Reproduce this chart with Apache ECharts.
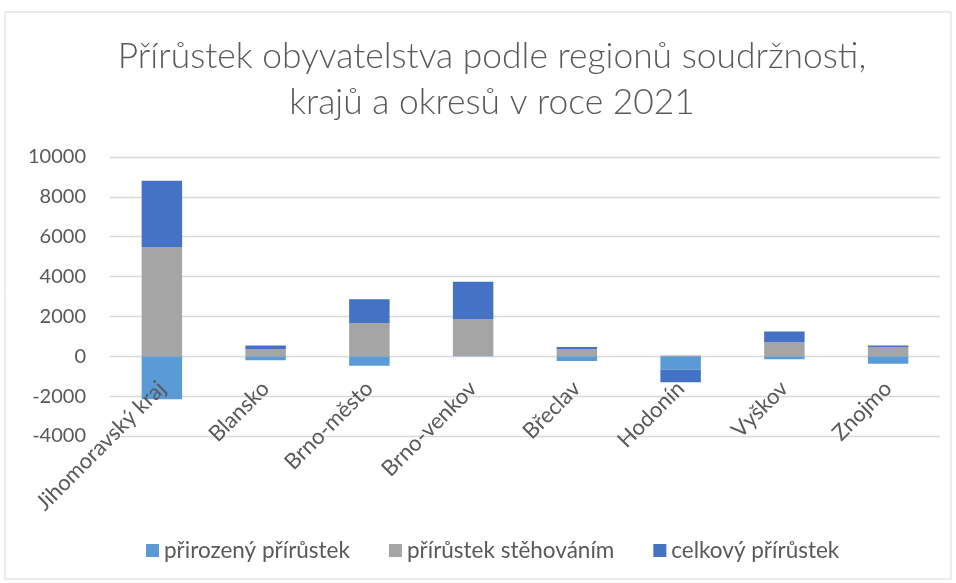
<!DOCTYPE html>
<html>
<head>
<meta charset="utf-8">
<script src="https://cdn.jsdelivr.net/npm/echarts@6/dist/echarts.min.js"></script>
<style>
  html, body { margin: 0; padding: 0; background: #fff; }
  #chart { width: 956px; height: 583px; }
</style>
</head>
<body>
<div id="chart"></div>
<script>
// okresy Jihomoravského kraje
const categories = ['Jihomoravský kraj', 'Blansko', 'Brno-město', 'Brno-venkov', 'Břeclav', 'Hodonín', 'Vyškov', 'Znojmo'];
// hodnoty
const prirozeny = [-2150, -200, -480, 10, -235, -670, -150, -380];
const stehovani = [5480, 370, 1670, 1865, 350, 40, 700, 460];
const celkovy = [3330, 170, 1190, 1870, 115, -630, 550, 80];
const yTicks = { min: -4000, max: 10000, step: 2000 };

const textColor = '#595959';
const font = 'Lato';

const chart = echarts.init(document.getElementById('chart'));

const barSeries = (name, data, color) => ({
  name: name,
  type: 'bar',
  stack: 'total',
  barWidth: '39%',
  data: data,
  itemStyle: { color: color },
  emphasis: { disabled: true }
});

chart.setOption({
  animation: false,
  textStyle: { fontFamily: font },
  title: {
    text: 'Přírůstek obyvatelstva podle regionů soudržnosti,\nkrajů a okresů v roce 2021',
    left: 487,
    textAlign: 'center',
    top: 29,
    textStyle: {
      color: textColor,
      fontFamily: font,
      fontWeight: 300,
      fontSize: 35.4,
      lineHeight: 46
    }
  },
  graphic: [{
    type: 'rect',
    shape: { x: 5, y: 12, width: 946, height: 567 },
    style: { fill: 'none', stroke: '#d9d9d9', lineWidth: 1 },
    silent: true
  }],
  legend: {
    bottom: 16,
    left: 141,
    itemWidth: 13,
    itemHeight: 13,
    itemGap: 39,
    icon: 'rect',
    textStyle: { color: textColor, fontSize: 22.5, fontFamily: font },
    data: ['přirozený přírůstek', 'přírůstek stěhováním', 'celkový přírůstek']
  },
  grid: {
    left: 110,
    right: 16,
    top: 157,
    bottom: 147,
    containLabel: false
  },
  xAxis: {
    type: 'category',
    data: categories,
    offset: -80,
    z: 5,
    axisLine: { onZero: false, show: false },
    axisTick: { show: false },
    axisLabel: {
      rotate: 45,
      color: textColor,
      fontSize: 22,
      fontFamily: font,
      margin: 29,
      interval: 0
    }
  },
  yAxis: {
    type: 'value',
    min: yTicks.min,
    max: yTicks.max,
    interval: yTicks.step,
    axisLine: { show: false },
    axisTick: { show: false },
    axisLabel: {
      color: textColor,
      fontSize: 20,
      fontFamily: font,
      margin: 24,
      formatter: (v) => String(v)
    },
    splitLine: { lineStyle: { color: '#d9d9d9', width: 1.3 } }
  },
  series: [
    barSeries('přirozený přírůstek', prirozeny, '#5b9bd5'),
    barSeries('přírůstek stěhováním', stehovani, '#a5a5a5'),
    barSeries('celkový přírůstek', celkovy, '#4472c4')
  ]
});
</script>
</body>
</html>
